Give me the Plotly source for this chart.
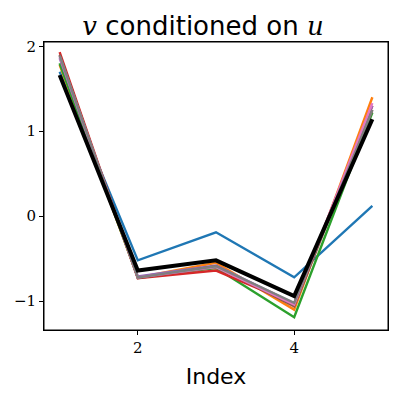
import plotly.graph_objects as go

index = [1, 2, 3, 4, 5]
series = {
    "s0": [1.70, -0.52, -0.19, -0.72, 0.12],
    "s1": [1.78, -0.72, -0.55, -1.10, 1.40],
    "s2": [1.80, -0.72, -0.61, -1.19, 1.22],
    "s3": [1.93, -0.73, -0.64, -1.03, 1.30],
    "s4": [1.86, -0.71, -0.58, -1.03, 1.30],
    "s5": [1.90, -0.73, -0.59, -1.06, 1.25],
    "s6": [1.88, -0.72, -0.60, -1.04, 1.33],
    "s7": [1.89, -0.72, -0.59, -1.02, 1.25],
}
mean_series = [1.66, -0.64, -0.52, -0.94, 1.14]
colors = ["#1f77b4", "#ff7f0e", "#2ca02c", "#d62728", "#9467bd", "#8c564b", "#e377c2", "#7f7f7f"]

fig = go.Figure()
for (name, vals), c in zip(series.items(), colors):
    fig.add_trace(go.Scatter(x=index, y=vals, mode="lines", line=dict(color=c, width=2.4), name=name))
fig.add_trace(go.Scatter(x=index, y=mean_series, mode="lines", line=dict(color="black", width=4), name="mean"))

axis_common = dict(
    showgrid=False, zeroline=False, showline=True, linecolor="black", linewidth=1,
    mirror=True, ticks="outside", ticklen=4, tickcolor="black", automargin=False,
    tickfont=dict(family="DejaVu Serif", size=15, color="black"),
)
serif = "font-family:'DejaVu Serif'"
# page body has an 8px default margin; size the figure so the plot area lands where intended
fig.update_layout(
    width=390, height=390,
    margin=dict(l=36, r=10, t=34, b=68),
    plot_bgcolor="white", paper_bgcolor="white",
    showlegend=False,
    title=dict(text=f"<span style=\"{serif}\"><i>v</i></span> conditioned on <span style=\"{serif}\"><i>u</i></span>",
               x=0.5, xanchor="center", y=0.955, yanchor="middle",
               font=dict(family="DejaVu Sans", size=26, color="black")),
    shapes=[dict(type="rect", xref="paper", yref="paper", x0=0, x1=1, y0=0, y1=1,
                 line=dict(color="black", width=1), layer="above")],
)
fig.update_xaxes(range=[0.8, 5.2], tickvals=[2, 4], ticktext=["2", "4"],
                 title=dict(text="Index", font=dict(family="DejaVu Sans", size=22, color="black"), standoff=12),
                 **axis_common)
fig.update_yaxes(range=[-1.34, 2.05], tickvals=[-1, 0, 1, 2], ticktext=["\u22121", "0", "1", "2"],
                 **axis_common)
fig.write_html("out.html")
